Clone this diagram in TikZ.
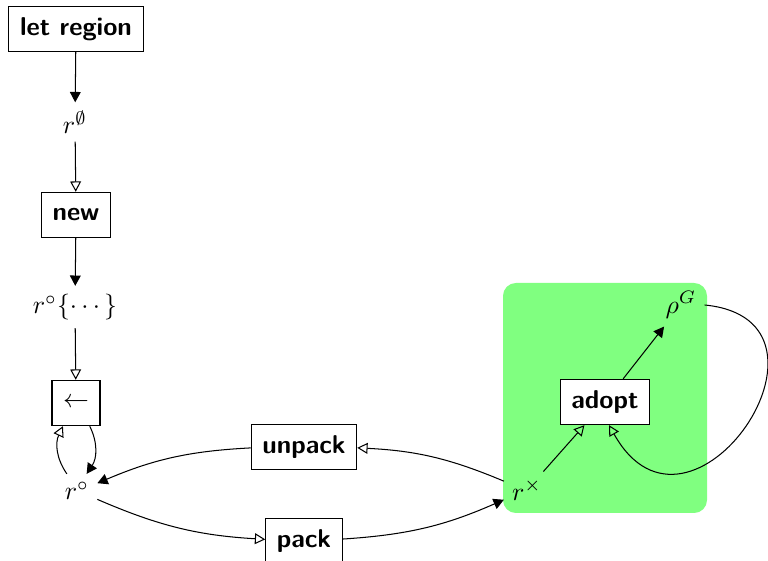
\documentclass[tikz,border=0pt]{standalone}
\usepackage{amsmath, amssymb}
\usetikzlibrary{arrows.meta}
\tikzset{
	opbox/.style={shape=rectangle, draw, fill=white, font=\sffamily\bfseries, inner sep=4.3pt, minimum height=17.6pt},
	region/.style={inner sep=3pt},
	fullhead/.style={-{Triangle[length=4pt, width=4.2pt]}},
	openhead/.style={-{Triangle[open, length=4pt, width=4.2pt]}}
}
\begin{document}
\begin{tikzpicture}[x=0.3876pt, y=-0.3876pt]
	\useasboundingbox (0, 0) rectangle (768, 561);
	% Group area:
	\fill[green!50, rounded corners=5pt] (503, 283) rectangle (707, 513);
	% Nodes:
	\node[opbox] (letreg) at (76, 29){let region};
	\node[region] (rempty) at (75, 122){$r^{\emptyset}$};
	\node[opbox] (new) at (76, 215){new};
	\node[region] (rfresh) at (75, 307){$r^{\circ}\{\cdots\}$};
	\node[opbox] (assign) at (76, 403){$\leftarrow$};
	\node[region] (rcirc) at (77, 491){$r^{\circ}$};
	\node[opbox] (unpack) at (304, 447){unpack};
	\node[opbox] (pack) at (304, 541){pack};
	\node[region] (rtimes) at (527, 490){$r^{\times}$};
	\node[opbox] (adopt) at (605, 402){adopt};
	\node[region] (rhoG) at (681, 305){$\rho^{G}$};
	% Paths:
	\draw[fullhead] (letreg) -- (rempty);
	\draw[openhead] (rempty) -- (new);
	\draw[fullhead] (new) -- (rfresh);
	\draw[openhead] (rfresh) -- (assign);
	\draw[fullhead] (assign) to[bend left=30] (rcirc);
	\draw[openhead] (rcirc) to[bend left=30] (assign);
	\draw[fullhead] (unpack) to[bend right=10] (rcirc);
	\draw[openhead] (rcirc) to[bend right=10] (pack);
	\draw[fullhead] (pack) to[bend right=10] (rtimes);
	\draw[openhead] (rtimes) to[bend right=10] (unpack);
	\draw[openhead] (rtimes) -- (adopt);
	\draw[fullhead] (adopt) -- (rhoG);
	\draw[openhead] (rhoG.east) .. controls (860, 320) and (690, 570) .. (adopt.-80);
\end{tikzpicture}
\end{document}
